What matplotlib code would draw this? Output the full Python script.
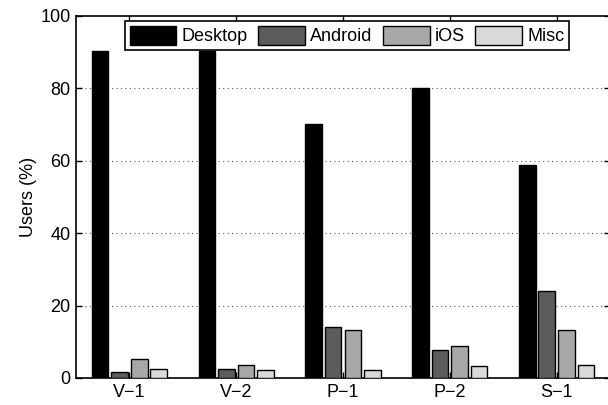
import matplotlib.pyplot as plt
import numpy as np

plt.rcParams['font.family'] = ['Liberation Sans', 'DejaVu Sans']

groups = ['V\u22121', 'V\u22122', 'P\u22121', 'P\u22122', 'S\u22121']
series = ['Desktop', 'Android', 'iOS', 'Misc']
desktop = [90.2, 90.3, 70.2, 80.2, 58.8]
android = [1.6, 2.6, 14.2, 7.6, 23.9]
ios = [5.3, 3.7, 13.2, 8.9, 13.3]
misc = [2.6, 2.1, 2.3, 3.3, 3.7]
colors = ['#000000', '#5c5c5c', '#a8a8a8', '#d9d9d9']

fig = plt.figure(figsize=(6.08, 4.05), dpi=100)
ax = fig.add_axes([76 / 608, 1 - 378 / 405, 534 / 608, 362 / 405])

x = np.arange(1, len(groups) + 1)
offsets = [-0.275, -0.092, 0.092, 0.275]
width = 0.155
for vals, name, col, off in zip([desktop, android, ios, misc], series, colors, offsets):
    ax.bar(x + off, vals, width, color=col, edgecolor='black', linewidth=1, label=name, zorder=3)

ax.set_xlim(0.5, 5.5)
ax.set_ylim(0, 100)
ax.set_xticks(x)
ax.set_xticklabels(groups)
ax.set_yticks(range(0, 101, 20))
ax.set_ylabel('Users (%)', fontsize=13, labelpad=2)
ax.tick_params(labelsize=13, direction='in', top=True, right=True, length=4, width=1, pad=4)

for v in [20, 40, 60, 80]:
    ax.axhline(v, color='0.35', linestyle=(0, (1, 3)), linewidth=0.8, zorder=1)

for s in ax.spines.values():
    s.set_linewidth(1.2)

leg = ax.legend(loc='upper center', bbox_to_anchor=(347 / 608, 1 - 21 / 405),
                bbox_transform=fig.transFigure, ncol=4, fontsize=13,
                fancybox=False, framealpha=1, edgecolor='black',
                handlelength=2.6, handleheight=1.25, handletextpad=0.3,
                columnspacing=0.55, borderpad=0.25, borderaxespad=0)
leg.get_frame().set_linewidth(1.2)

fig.savefig('out.png', dpi=100)
